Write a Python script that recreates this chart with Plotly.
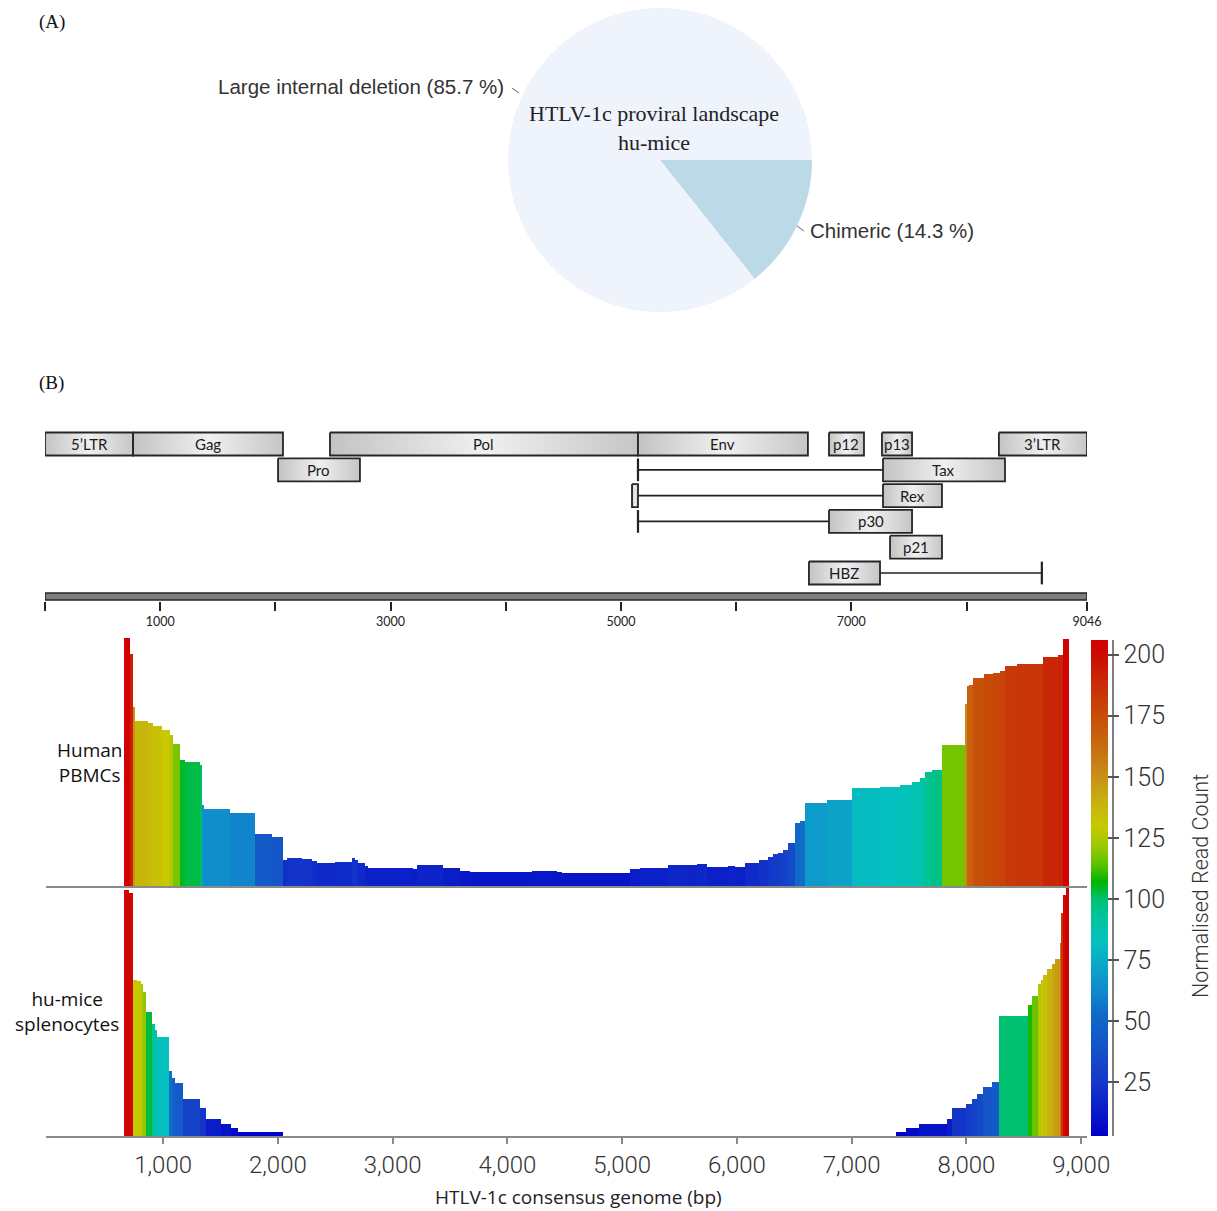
import plotly.graph_objects as go

W, H = 1217, 1211


def px(x):
    return x / W


def py(y):
    return 1 - y / H


# ---------------- Panel A: HTLV-1c proviral landscape in hu-mice ----------------
landscape_labels = ["Chimeric", "Large internal deletion"]
landscape_share = [14.3, 85.7]
landscape_colors = ["#bcd9e7", "#eef3fc"]

# ---------------- Panel B: HTLV-1c genome organisation (bp) ----------------
gene_name = ["5’LTR", "Gag", "Pol", "Env", "p12", "p13", "3’LTR",
             "Pro", "Tax", "Rex", "p30", "p21", "HBZ"]
gene_start = [0, 765, 2474, 5148, 6806, 7266, 8281, 2023, 7275, 7275, 6806, 7336, 6632]
gene_end = [765, 2066, 5148, 6623, 7110, 7527, 9046, 2734, 8334, 7787, 7527, 7787, 7249]
gene_track = [0, 0, 0, 0, 0, 0, 0, 1, 1, 2, 3, 4, 5]

# first exons of the spliced genes and the introns joining them
intron_from = [5148, 5148, 5148, 7249]
intron_to = [7275, 7275, 6806, 8654]
intron_track = [1, 2, 3, 5]
exon_mark_pos = [5148, 5148, 8654]
exon_mark_track = [1, 3, 5]
rex_exon1 = [5096, 5148]

genome_length = 9046
genome_ticks = [0, 1000, 2000, 3000, 4000, 5000, 6000, 7000, 8000, 9046]
genome_tick_text = ["", "1000", "", "3000", "", "5000", "", "7000", "", "9046"]

# ---------------- Normalised read coverage ----------------
pbmc_edges = [662, 712, 741, 755, 871, 915, 988, 1060, 1090, 1148, 1191, 1322, 1336,
              1357, 1583, 1801, 1946, 2047, 2077, 2208, 2295, 2338, 2382, 2498, 2643,
              2672, 2701, 2759, 2788, 3180, 3215, 3441, 3587, 3674, 4212, 4429, 4473,
              5068, 5155, 5402, 5576, 5649, 5741, 5924, 5983, 6070, 6188, 6273, 6316,
              6360, 6404, 6442, 6506, 6549, 6593, 6781, 7000, 7246, 7420, 7522, 7595,
              7638, 7697, 7789, 7993, 8010, 8021, 8059, 8152, 8233, 8292, 8335, 8437,
              8669, 8800, 8843, 8895]
pbmc_count = [205.7, 193, 149, 137, 135.6, 133, 130, 125.4, 117.6, 104.7, 102.7, 100.5,
              67, 64, 61, 43.2, 41, 21.6, 23.5, 22.4, 21, 19.4, 18.8, 20.2,
              23.5, 22, 19.4, 16.6, 15.2, 14.1, 17.4, 14.6, 12.5, 11.3, 12.2, 11.3,
              10.5, 14.2, 15.2, 17.7, 17.2, 18.6, 15.4, 16.6, 15.4, 19.4, 22, 24.4,
              26.3, 27.6, 30.3, 35.4, 52, 54, 68.7, 71.4, 81, 82.5, 84.2, 86.6,
              89.4, 94.9, 96.3, 117, 151, 166, 167, 173, 176, 177, 178.6, 183,
              184, 190, 192, 205]

spleno_edges = [662, 706, 741, 776, 805, 828, 849, 901, 930, 944, 1054, 1080, 1104,
                1171, 1322, 1371, 1502, 1589, 1656, 2048, 7387, 7473, 7588, 7827,
                7876, 7992, 8044, 8094, 8146, 8218, 8283, 8538, 8573, 8631, 8646,
                8669, 8698, 8742, 8771, 8815, 8829, 8845, 8865, 8895]
spleno_count = [204, 202, 130, 129, 126, 120, 103, 93, 88, 82.5, 54, 48, 44,
                30.7, 23.5, 14, 10, 6.6, 3.3, 0, 3.3, 6.6, 10, 14,
                23.5, 27, 30.7, 34.6, 40.4, 44.6, 99.7, 109, 116, 126, 130,
                133.7, 139, 143, 147, 160, 185, 200, 206]

coverage_ticks = [1000, 2000, 3000, 4000, 5000, 6000, 7000, 8000, 9000]
count_ticks = [25, 50, 75, 100, 125, 150, 175, 200]
count_min, count_max = 3, 206

# rainbow scale for the read count
scale_stops = [(3, "#0000c8"), (12, "#0818c8"), (25, "#1438c8"), (40, "#1454c8"),
               (52, "#1068c8"), (62, "#1088cc"), (72, "#0ca4c8"), (82, "#04c0c0"),
               (92, "#00c4a0"), (100, "#00c070"), (107, "#00b400"), (113, "#50c000"),
               (121, "#98c800"), (130, "#c8c800"), (140, "#c8b010"), (150, "#c89018"),
               (162, "#c86c10"), (175, "#c84c08"), (188, "#c82c08"), (200, "#cc0a02"),
               (206, "#d00000")]
colorscale = [[(v - count_min) / (count_max - count_min), c] for v, c in scale_stops]

TRACK_Y0, TRACK_STEP = 444, 25.8  # pixel centre of track 0 and spacing
MAP_TOP, MAP_BOTTOM = 420, 601
BOX_HALF = 0.445


def track_of(pix):
    return (pix - TRACK_Y0) / TRACK_STEP


fig = go.Figure()

# ---- pie ----
fig.add_trace(go.Pie(
    values=landscape_share, labels=landscape_labels, sort=False,
    direction="clockwise", rotation=90, textinfo="none", hoverinfo="skip",
    marker=dict(colors=landscape_colors, line=dict(width=0)),
    domain=dict(x=[px(508), px(812)], y=[py(312), py(8)]),
))

# ---- genome map ----
box_gradient = dict(type="horizontal",
                    colorscale=[[0, "#c3c3c3"], [0.5, "#f0f0f0"], [1, "#c6c6c6"]])
outline = dict(color="#262626", width=1.8)

for s, e, t in zip(intron_from, intron_to, intron_track):
    fig.add_trace(go.Scatter(x=[s, e], y=[t, t], mode="lines",
                             line=dict(color="#222", width=1.7),
                             hoverinfo="skip", showlegend=False, xaxis="x", yaxis="y"))
for p, t in zip(exon_mark_pos, exon_mark_track):
    fig.add_trace(go.Scatter(x=[p, p], y=[t - 0.44, t + 0.44], mode="lines",
                             line=dict(color="#222", width=2.2),
                             hoverinfo="skip", showlegend=False, xaxis="x", yaxis="y"))

box_list = list(zip(gene_start, gene_end, gene_track)) + [(rex_exon1[0], rex_exon1[1], 2)]
for s, e, t in box_list:
    fig.add_trace(go.Scatter(
        x=[s, e, e, s, s], y=[t - BOX_HALF, t - BOX_HALF, t + BOX_HALF, t + BOX_HALF, t - BOX_HALF],
        mode="lines", fill="toself", fillgradient=box_gradient, line=outline,
        hoverinfo="skip", showlegend=False, xaxis="x", yaxis="y"))

# genome scale bar
bar_top, bar_bot = track_of(593), track_of(600)
fig.add_trace(go.Scatter(
    x=[0, genome_length, genome_length, 0, 0], y=[bar_top, bar_top, bar_bot, bar_bot, bar_top],
    mode="lines", fill="toself", fillcolor="#7e7e7e", line=dict(color="#262626", width=1.6),
    hoverinfo="skip", showlegend=False, xaxis="x", yaxis="y"))

# ---- coverage bars ----
def bars(edges, counts, xa, ya):
    mids = [(a + b) / 2 for a, b in zip(edges[:-1], edges[1:])]
    widths = [b - a for a, b in zip(edges[:-1], edges[1:])]
    return go.Bar(x=mids, y=counts, width=widths, xaxis=xa, yaxis=ya,
                  marker=dict(color=counts, coloraxis="coloraxis", line=dict(width=0)),
                  hoverinfo="skip", showlegend=False)


fig.add_trace(bars(pbmc_edges, pbmc_count, "x2", "y2"))
fig.add_trace(bars(spleno_edges, spleno_count, "x3", "y3"))

ann = []
serif = "Liberation Serif"
sans = "Liberation Sans"
human = "Open Sans"

ann.append(dict(text="(A)", x=px(37), y=py(22), xref="paper", yref="paper",
                xanchor="left", yanchor="middle", showarrow=False,
                font=dict(family=serif, size=19, color="#111")))
ann.append(dict(text="(B)", x=px(37), y=py(383), xref="paper", yref="paper",
                xanchor="left", yanchor="middle", showarrow=False,
                font=dict(family=serif, size=19, color="#111")))
ann.append(dict(text="HTLV-1c proviral landscape<br>hu-mice", x=px(654), y=py(128),
                xref="paper", yref="paper", xanchor="center", yanchor="middle",
                showarrow=False, font=dict(family=serif, size=22, color="#222")))
ann.append(dict(text=f"{landscape_labels[1]} ({landscape_share[1]} %)", x=px(506), y=py(86),
                xref="paper", yref="paper", xanchor="right", yanchor="middle",
                showarrow=False, font=dict(family=sans, size=20.5, color="#333")))
ann.append(dict(text=f"{landscape_labels[0]} ({landscape_share[0]} %)", x=px(808), y=py(231),
                xref="paper", yref="paper", xanchor="left", yanchor="middle",
                showarrow=False, font=dict(family=sans, size=20.5, color="#333")))

for name, s, e, t in zip(gene_name, gene_start, gene_end, gene_track):
    ann.append(dict(text=name, x=(s + e) / 2, y=t, xref="x", yref="y",
                    xanchor="center", yanchor="middle", showarrow=False,
                    font=dict(family="Lato", size=15, color="#1a1a1a")))

ann.append(dict(text="Human<br>PBMCs", x=px(89), y=py(762), xref="paper", yref="paper",
                xanchor="center", yanchor="middle", showarrow=False,
                font=dict(family=human, size=19, color="#111")))
ann.append(dict(text="hu-mice<br>splenocytes", x=px(67), y=py(1011), xref="paper", yref="paper",
                xanchor="center", yanchor="middle", showarrow=False,
                font=dict(family=human, size=19, color="#111")))
ann.append(dict(text="HTLV-1c consensus genome (bp)", x=px(578), y=py(1197),
                xref="paper", yref="paper", xanchor="center", yanchor="middle",
                showarrow=False, font=dict(family=human, size=19, color="#222")))
# colour bar caption
ann.append(dict(text="Normalised Read Count", x=px(1201), y=py(886), textangle=-90,
                xref="paper", yref="paper", xanchor="center", yanchor="middle",
                showarrow=False, font=dict(family="Roboto", size=21.5, color="#333", weight=300)))

shapes = [
    dict(type="line", xref="paper", yref="paper", x0=px(512), y0=py(88), x1=px(519), y1=py(93),
         line=dict(color="#666", width=1)),
    dict(type="line", xref="paper", yref="paper", x0=px(797), y0=py(226), x1=px(804), y1=py(231),
         line=dict(color="#666", width=1)),
    dict(type="line", xref="paper", yref="paper", x0=px(1113), y0=py(640), x1=px(1113), y1=py(1136),
         line=dict(color="#555", width=1.5)),
]

cov_x_range = [-20, 9050]
cov_domain = [px(46), px(1087)]

fig.update_layout(
    width=W, height=H, margin=dict(l=0, r=0, t=0, b=0, autoexpand=False),
    paper_bgcolor="white", plot_bgcolor="rgba(0,0,0,0)", showlegend=False,
    annotations=ann, shapes=shapes, bargap=0,
    xaxis=dict(domain=[px(45), px(1087)], range=[0, genome_length], anchor="y",
               tickvals=genome_ticks, ticktext=genome_tick_text, ticks="outside",
               ticklen=9, tickwidth=1.5, tickcolor="#222", showline=False,
               showgrid=False, zeroline=False,
               tickfont=dict(family="Lato", size=12.5, color="#222")),
    yaxis=dict(domain=[py(MAP_BOTTOM), py(MAP_TOP)],
               range=[track_of(MAP_BOTTOM), track_of(MAP_TOP)], visible=False),
    xaxis2=dict(domain=cov_domain, range=cov_x_range, anchor="y2", showline=True,
                linecolor="#8a8a8a", linewidth=1.5, ticks="", showticklabels=False,
                showgrid=False, zeroline=False),
    yaxis2=dict(domain=[py(886), py(638)], range=[0, count_max], visible=False),
    xaxis3=dict(domain=cov_domain, range=cov_x_range, anchor="y3", showline=True,
                linecolor="#8a8a8a", linewidth=1.5, tickvals=coverage_ticks,
                ticktext=[f"{v:,}" for v in coverage_ticks], ticks="outside",
                ticklen=6, tickwidth=1.5, tickcolor="#8a8a8a", showgrid=False,
                zeroline=False,
                tickfont=dict(family="Roboto", size=24, color="#333", weight=300)),
    yaxis3=dict(domain=[py(1136), py(888)], range=[0, count_max], visible=False),
    coloraxis=dict(
        colorscale=colorscale, cmin=count_min, cmax=count_max,
        colorbar=dict(
            x=px(1091), xanchor="left", xpad=0, ypad=0,
            y=py(888), yanchor="middle", len=(1136 - 640) / H, lenmode="fraction",
            thickness=17, thicknessmode="pixels", outlinewidth=0,
            tickvals=count_ticks, ticks="outside", ticklen=11, tickwidth=1.5,
            tickcolor="#555", tickprefix="\u2009",
            tickfont=dict(family="Roboto", size=25, color="#333", weight=300),
        ),
    ),
)

fig.write_html("out.html")
